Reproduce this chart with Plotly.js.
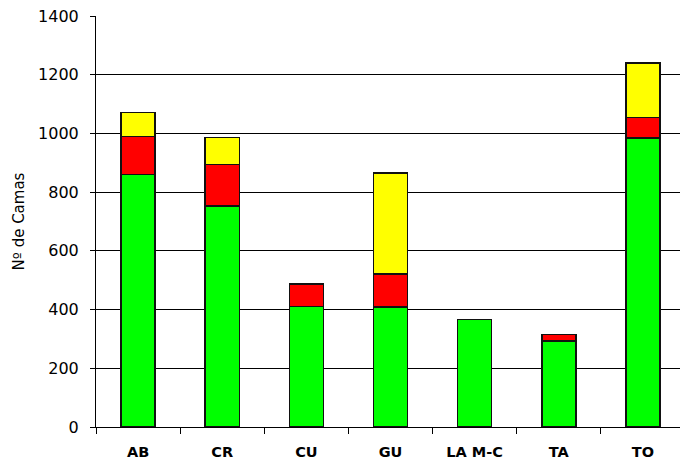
<!DOCTYPE html>
<html>
<head>
<meta charset="utf-8">
<script src="https://cdn.plot.ly/plotly-3.0.1.min.js"></script>
<style>
html,body{margin:0;padding:0;overflow:hidden;background:#fff;width:680px;height:462px;}
#chart{width:690px;height:462px;}
</style>
</head>
<body>
<div id="chart"></div>
<script>
const categories = ["AB", "CR", "CU", "GU", "LA M-C", "TA", "TO"];
const greenValues = [860, 752, 410, 409, 367, 293, 985];
const redValues = [130, 142, 77, 112, 0, 22, 70];
const yellowValues = [82, 93, 0, 345, 0, 0, 185];
const yTicks = [0, 200, 400, 600, 800, 1000, 1200, 1400];

function mk(vals, color) {
  return {
    type: 'bar', x: categories, y: vals.map(v => v === 0 ? null : v),
    marker: {color: color, line: {color: '#111', width: 1.5}},
    hoverinfo: 'skip'
  };
}
const data = [mk(greenValues, '#00ff00'), mk(redValues, '#ff0000'), mk(yellowValues, '#ffff00')];

const FONT = 'DejaVu Sans, Liberation Sans, Arial, sans-serif';
const layout = {
  width: 690, height: 462,
  margin: {l: 96, r: 5, t: 16, b: 35},
  paper_bgcolor: '#fff', plot_bgcolor: '#fff',
  barmode: 'stack', bargap: 0.595,
  showlegend: false,
  font: {family: FONT, color: '#000'},
  xaxis: {
    type: 'category',
    showline: true, linecolor: '#000', linewidth: 1,
    ticks: 'outside', tickson: 'boundaries', ticklen: 6, tickcolor: '#000', tickwidth: 1,
    tickfont: {size: 14.5, family: FONT, weight: 'bold'},
    ticklabelstandoff: 12,
    showgrid: false, zeroline: false, fixedrange: true
  },
  yaxis: {
    range: [0, 1400], tickvals: yTicks, ticktext: yTicks.map(String),
    showline: true, linecolor: '#000', linewidth: 1,
    ticks: 'outside', ticklen: 5, tickcolor: '#000', tickwidth: 1,
    tickfont: {size: 16},
    ticklabelstandoff: 8,
    showgrid: true, gridcolor: '#000', gridwidth: 1,
    zeroline: false,
    title: {text: 'Nº de Camas', font: {size: 15}, standoff: 9},
    fixedrange: true
  }
};
Plotly.newPlot('chart', data, layout, {staticPlot: true, displayModeBar: false});
</script>
</body>
</html>
